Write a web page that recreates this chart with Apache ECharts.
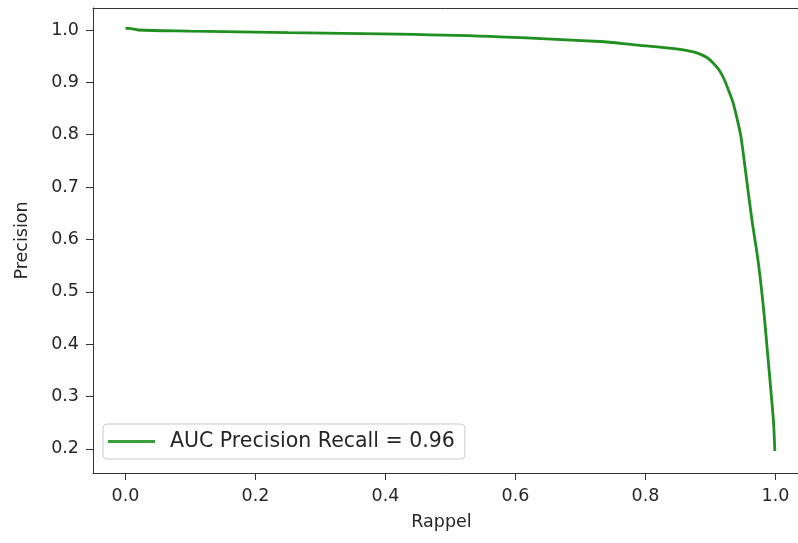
<!DOCTYPE html>
<html>
<head>
<meta charset="utf-8">
<script src="https://cdn.jsdelivr.net/npm/echarts@6/dist/echarts.min.js"></script>
<style>
  html, body { margin: 0; padding: 0; background: #fff; overflow: hidden; }
  #chart { width: 798px; height: 543px; }
</style>
</head>
<body>
<div id="chart"></div>
<script>
// precision-recall curve
var recall = [0, 0.005, 0.02, 0.1, 0.25, 0.42, 0.576, 0.73, 0.78, 0.853, 0.87, 0.884, 0.895, 0.904, 0.913, 0.921, 0.928, 0.935, 0.941, 0.947, 0.956, 0.964, 0.972, 0.978, 0.983, 0.988, 0.993, 0.997, 0.999];
var precision = [1.003, 1.003, 1.0, 0.998, 0.995, 0.992, 0.987, 0.978, 0.972, 0.963, 0.959, 0.954, 0.947, 0.937, 0.924, 0.906, 0.884, 0.86, 0.83, 0.795, 0.71, 0.635, 0.57, 0.51, 0.45, 0.38, 0.31, 0.25, 0.196];
var xTicks = [0, 0.2, 0.4, 0.6, 0.8, 1.0];
var yTicks = [0.2, 0.3, 0.4, 0.5, 0.6, 0.7, 0.8, 0.9, 1.0];
var seriesName = 'AUC Precision Recall = 0.96';

(function () {
  var ink = '#262626';
  var spine = '#333333';
  var lineColor = '#1f8f1f';
  var font = 'DejaVu Sans';

  var points = recall.map(function (r, i) { return [r, precision[i]]; });

  var chart = echarts.init(document.getElementById('chart'), null, { renderer: 'canvas' });
  chart.setOption({
    animation: false,
    grid: { left: 93, top: 8, width: 715, height: 465, outerBoundsMode: 'none', containLabel: false },
    legend: {
      left: 103, top: 424,
      padding: [7, 10, 7, 5],
      itemWidth: 47, itemHeight: 3, icon: 'rect',
      borderColor: '#cccccc', borderWidth: 1, borderRadius: 4,
      backgroundColor: 'rgba(255,255,255,0.8)',
      textStyle: { fontFamily: font, fontSize: 20.5, color: ink, padding: [0, 0, 0, 10] },
      data: [{ name: seriesName, itemStyle: { color: '#3a9f3a' } }]
    },
    xAxis: [{
      type: 'value', min: -0.05, max: 1.05,
      name: 'Rappel', nameLocation: 'middle', nameGap: 40,
      nameTextStyle: { fontFamily: font, fontSize: 17.5, color: ink, padding: [0, 18, 0, 0] },
      axisLine: { onZero: false, lineStyle: { color: spine } },
      axisTick: { length: 7, lineStyle: { color: spine }, customValues: xTicks },
      axisLabel: { fontFamily: font, fontSize: 17.5, color: ink, margin: 14, customValues: xTicks,
        formatter: function (v) { return v.toFixed(1); } },
      splitLine: { show: false }
    }, {
      // top spine only
      type: 'value', position: 'top', min: -0.05, max: 1.05,
      axisLine: { show: true, onZero: false, lineStyle: { color: spine } },
      axisTick: { show: false }, axisLabel: { show: false }, splitLine: { show: false }
    }],
    yAxis: {
      type: 'value', min: 0.154, max: 1.042,
      name: 'Precision', nameLocation: 'middle', nameGap: 62,
      nameTextStyle: { fontFamily: font, fontSize: 17.5, color: ink },
      axisLine: { show: true, onZero: false, lineStyle: { color: spine } },
      axisTick: { show: true, length: 7, lineStyle: { color: spine }, customValues: yTicks },
      axisLabel: { fontFamily: font, fontSize: 17.5, color: ink, margin: 14, customValues: yTicks,
        formatter: function (v) { return v.toFixed(1); } },
      splitLine: { show: false }
    },
    series: [{
      name: seriesName, type: 'line', data: points,
      showSymbol: false, smooth: 0.3,
      lineStyle: { color: lineColor, width: 2.8 },
      itemStyle: { color: lineColor }
    }]
  });
  window.addEventListener('resize', function () { chart.resize(); });
})();
</script>
</body>
</html>
